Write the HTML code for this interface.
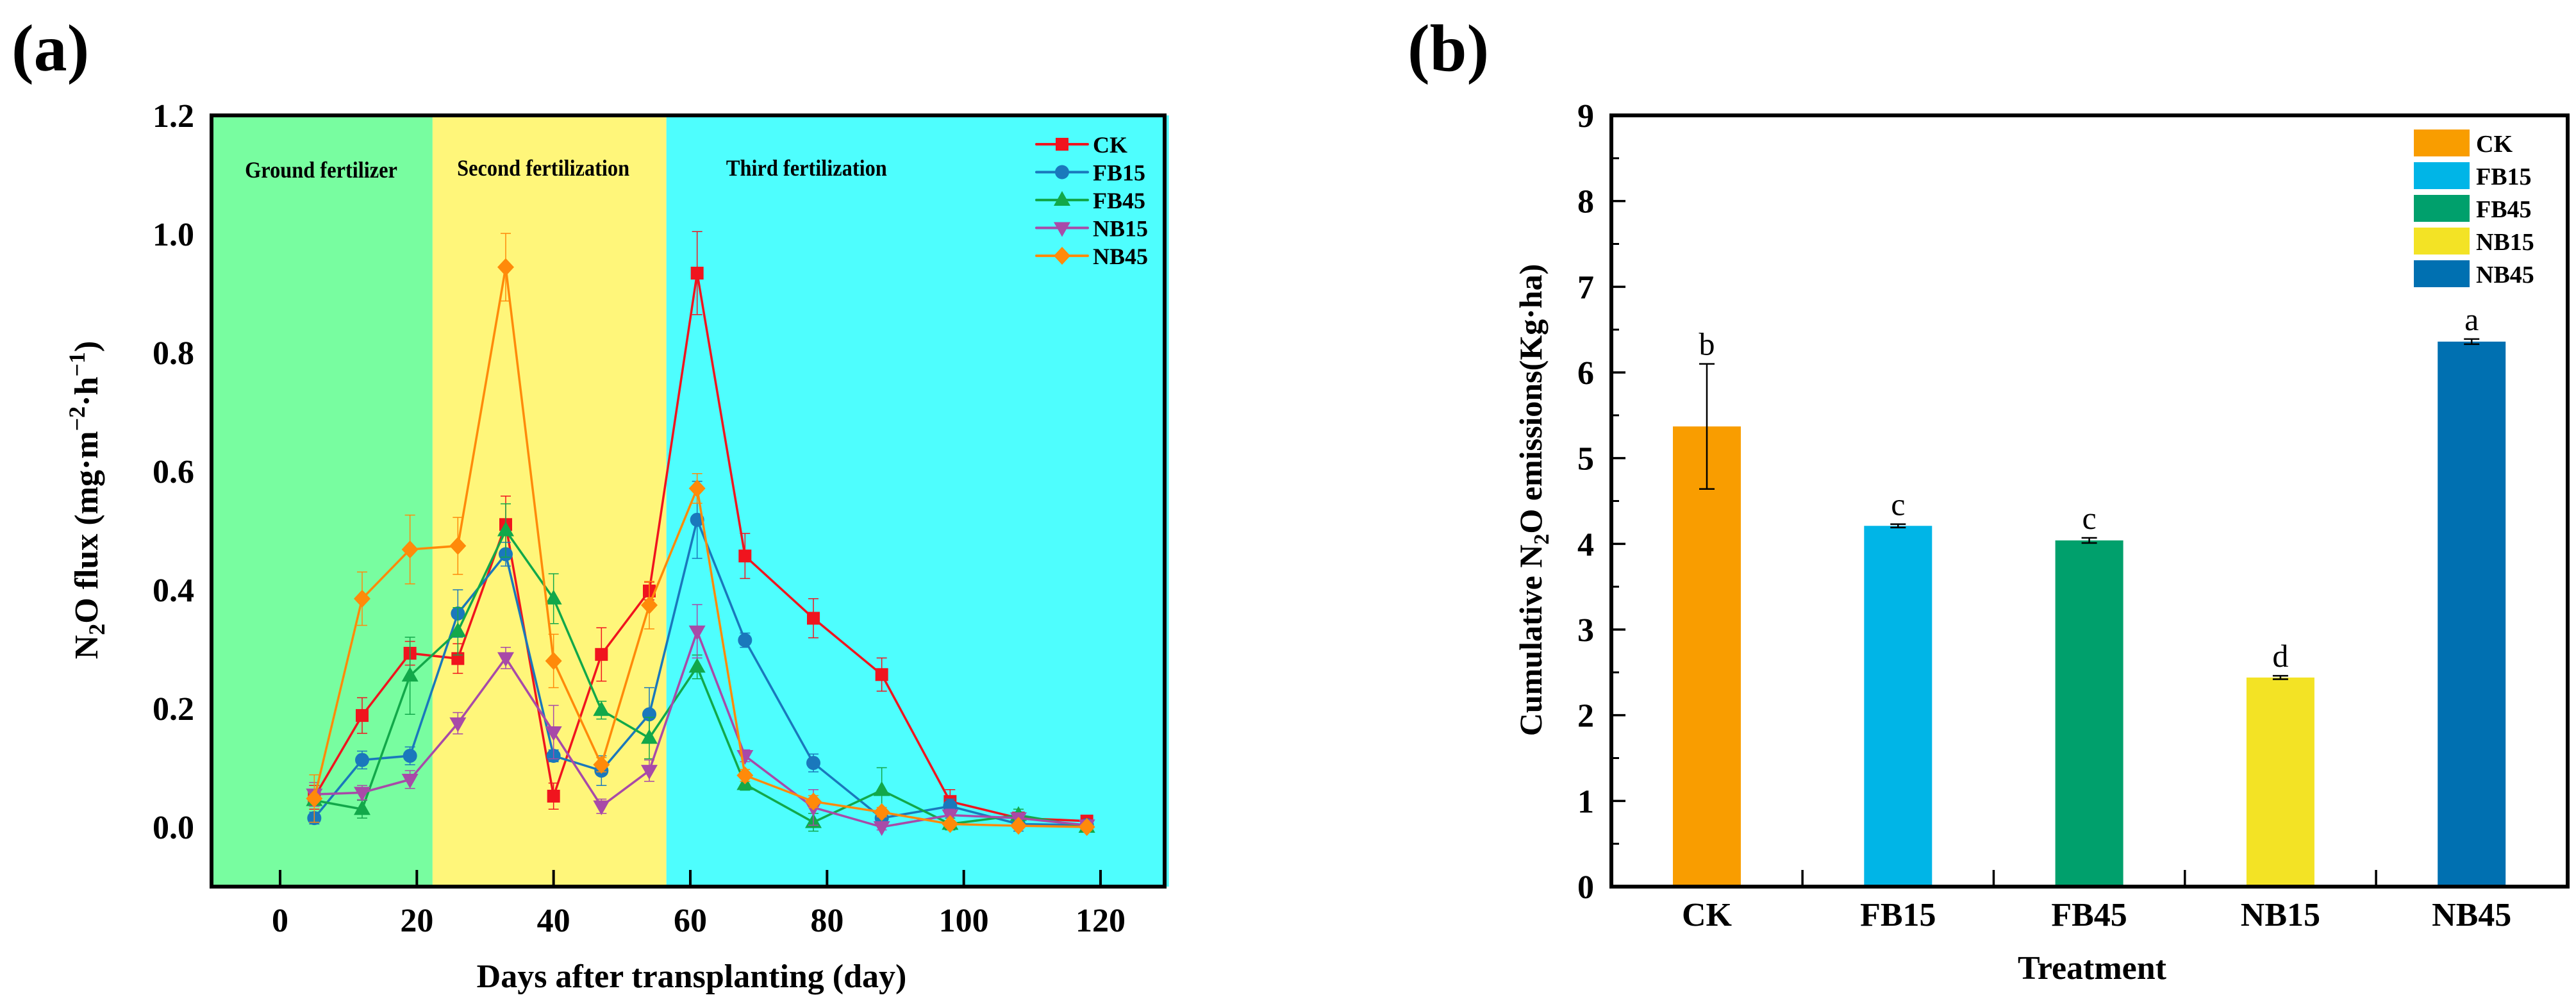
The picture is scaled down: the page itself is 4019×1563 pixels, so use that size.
<!DOCTYPE html>
<html><head><meta charset="utf-8"><style>
html,body{margin:0;padding:0;background:#fff;}
svg{display:block;font-family:"Liberation Serif","Times New Roman",serif;}
</style></head><body>
<svg id="fig" width="4019" height="1563" viewBox="0 0 4019 1563" xmlns="http://www.w3.org/2000/svg">
<g id="pa"></g>
<g id="pb"></g>
</svg>
<script>
const days = [5,12,19,26,33,40,47,54,61,68,78,88,98,108,118];
const seriesNames = ["CK","FB15","FB45","NB15","NB45"];
const ckVals   = [0.050,0.188,0.293,0.284,0.510,0.052,0.291,0.398,0.934,0.457,0.352,0.257,0.043,0.015,0.010];
const fb15Vals = [0.015,0.113,0.120,0.360,0.460,0.120,0.095,0.190,0.518,0.315,0.108,0.015,0.035,0.005,0.003];
const fb45Vals = [0.045,0.030,0.255,0.330,0.500,0.385,0.197,0.150,0.270,0.072,0.008,0.062,0.005,0.020,0.000];
const nb15Vals = [0.055,0.058,0.080,0.175,0.285,0.160,0.035,0.095,0.330,0.120,0.033,0.000,0.020,0.015,0.003];
const nb45Vals = [0.048,0.385,0.468,0.474,0.944,0.280,0.105,0.374,0.571,0.087,0.043,0.025,0.005,0.002,0.000];
const ckErr   = [0.020,0.030,0.020,0.025,0.048,0.022,0.045,0.015,0.070,0.038,0.033,0.028,0.020,0.010,0.005];
const fb15Err = [0.010,0.015,0.015,0.040,0.020,0.010,0.025,0.045,0.065,0.012,0.015,0.010,0.012,0.012,0.005];
const fb45Err = [0.010,0.015,0.065,0.040,0.045,0.042,0.015,0.035,0.020,0.010,0.015,0.038,0.010,0.010,0.005];
const nb15Err = [0.020,0.012,0.015,0.018,0.018,0.045,0.012,0.018,0.045,0.010,0.030,0.005,0.010,0.008,0.005];
const nb45Err = [0.040,0.045,0.058,0.048,0.057,0.045,0.012,0.040,0.025,0.010,0.010,0.008,0.005,0.005,0.005];
const xTicksA = [0,20,40,60,80,100,120];
const yTicksA = [0.0,0.2,0.4,0.6,0.8,1.0,1.2];
const bands = [[-10,22.3],[22.3,56.5],[56.5,130]];
const bandLabels = ["Ground fertilizer","Second fertilization","Third fertilization"];
const bandLabelDays = [6,38.5,77];

const treatments = ["CK","FB15","FB45","NB15","NB45"];
const cumVals = [5.37,4.21,4.04,2.44,6.36];
const cumErr  = [0.73,0.02,0.03,0.02,0.03];
const sigLetters = ["b","c","c","d","a"];
const yTicksB = [0,1,2,3,4,5,6,7,8,9];

const NS="http://www.w3.org/2000/svg";
function mk(parent,tag,attrs,text){const e=document.createElementNS(NS,tag);for(const k in attrs)e.setAttribute(k,attrs[k]);if(text!==undefined)e.textContent=text;parent.appendChild(e);return e;}

// ---------- Panel A ----------
const pa=document.getElementById('pa');
const AL=330,AR=1817,AT=180,AB=1383;
const xA=d=>437+(d-0)*(1717-437)/120;
const yA=v=>1290-v*925;
const bandColors=["#78fda0","#fff67a","#4efefe"];
bands.forEach((b,i)=>{
  const r=mk(pa,'rect',{x:xA(b[0]),y:AT,width:xA(b[1])-xA(b[0]),height:AB-AT,fill:bandColors[i]});
  
  
  const t=mk(pa,'text',{x:xA(bandLabelDays[i]),y:i==0?277:274,'font-size':36,'font-weight':'bold','text-anchor':'middle',transform:`translate(${xA(bandLabelDays[i])*0.1},0) scale(0.9,1)`},bandLabels[i]);
  
  
});
const colors=["#f0141e","#1a78bc","#12a84a","#a84aa8","#ff8a0a"];
const vals=[ckVals,fb15Vals,fb45Vals,nb15Vals,nb45Vals];
const errs=[ckErr,fb15Err,fb45Err,nb15Err,nb45Err];
function marker(g,i,cx,cy){
  let m;
  if(i==0) m=mk(g,'rect',{x:cx-10,y:cy-10,width:20,height:20,fill:colors[i]});
  else if(i==1) m=mk(g,'circle',{cx:cx,cy:cy,r:11,fill:colors[i]});
  else if(i==2) m=mk(g,'polygon',{points:`${cx},${cy-14} ${cx-13},${cy+9} ${cx+13},${cy+9}`,fill:colors[i]});
  else if(i==3) m=mk(g,'polygon',{points:`${cx},${cy+14} ${cx-13},${cy-9} ${cx+13},${cy-9}`,fill:colors[i]});
  else m=mk(g,'polygon',{points:`${cx},${cy-14} ${cx+13},${cy} ${cx},${cy+14} ${cx-13},${cy}`,fill:colors[i]});
  return m;
}
vals.forEach((vs,i)=>{
  const g=mk(pa,'g',{});
  
  
  vs.forEach((v,j)=>{
    const x=xA(days[j]),e=errs[i][j];
    mk(g,'path',{d:`M${x},${yA(v-e)}V${yA(v+e)}M${x-8},${yA(v+e)}H${x+8}M${x-8},${yA(v-e)}H${x+8}`,stroke:colors[i],'stroke-width':1.5,fill:'none'});
  });
  mk(g,'polyline',{points:vs.map((v,j)=>xA(days[j])+','+yA(v)).join(' '),fill:'none',stroke:colors[i],'stroke-width':3.5});
  vs.forEach((v,j)=>{
    const m=marker(g,i,xA(days[j]),yA(v));
    
    
  });
});
// legend A
seriesNames.forEach((n,i)=>{
  const y=225+i*43.5;
  const g=mk(pa,'g',{});
  
  
  mk(g,'line',{x1:1617,x2:1697,y1:y,y2:y,stroke:colors[i],'stroke-width':4,'stroke-linecap':'round'});
  marker(g,i,1657,y);
  mk(g,'text',{x:1705,y:y+13,'font-size':36,'font-weight':'bold'},n);
});
// axes A
const frA=mk(pa,'rect',{x:AL,y:AT,width:AR-AL,height:AB-AT,fill:'none',stroke:'#000','stroke-width':6});


xTicksA.forEach(d=>{
  mk(pa,'line',{x1:xA(d),x2:xA(d),y1:AB,y2:AB-26,stroke:'#000','stroke-width':4});
  const t=mk(pa,'text',{x:xA(d),y:1453,'font-size':52,'font-weight':'bold','text-anchor':'middle'},d);
  
  
});
yTicksA.forEach(v=>{
  const t=mk(pa,'text',{x:303,y:yA(v)+18,'font-size':52,'font-weight':'bold','text-anchor':'end'},v.toFixed(1));
  
  
});
const xtA=mk(pa,'text',{x:1079,y:1540,'font-size':52,'font-weight':'bold','text-anchor':'middle'},'Days after transplanting (day)');


const ytA=mk(pa,'text',{x:0,y:0,'font-size':52,'font-weight':'bold','text-anchor':'middle',transform:'translate(152,780) rotate(-90)'});


ytA.innerHTML='N<tspan font-size="36" dy="11">2</tspan><tspan dy="-11">O flux (mg·m</tspan><tspan font-size="36" dy="-20">−2</tspan><tspan dy="20">·h</tspan><tspan font-size="36" dy="-20">−1</tspan><tspan dy="20">)</tspan>';
const la=mk(pa,'text',{x:18,y:110,'font-size':104,'font-weight':'bold'},'(a)');



// ---------- Panel B ----------
const pb=document.getElementById('pb');
const BL=2514,BR=4006,BT=180,BB=1383;
const xB=i=>2663+i*298.3;
const yB=v=>BB-v*(BB-BT)/9;
const barColors=["#f99d00","#00b5e7","#00a06c","#f3e325","#0070b1"];
treatments.forEach((n,i)=>{
  const r=mk(pb,'rect',{x:xB(i)-53,y:yB(cumVals[i]),width:106,height:yB(0)-yB(cumVals[i]),fill:barColors[i]});
  
  
  const e=cumErr[i],x=xB(i);
  mk(pb,'path',{d:`M${x},${yB(cumVals[i]-e)}V${yB(cumVals[i]+e)}M${x-12},${yB(cumVals[i]+e)}H${x+12}M${x-12},${yB(cumVals[i]-e)}H${x+12}`,stroke:'#000','stroke-width':2.5,fill:'none'});
  const t=mk(pb,'text',{x:x,y:yB(cumVals[i]+e)-14,'font-size':50,'text-anchor':'middle'},sigLetters[i]);
  
  
  const tl=mk(pb,'text',{x:x,y:1444,'font-size':52,'font-weight':'bold','text-anchor':'middle'},n);
  
  
  const s=mk(pb,'rect',{x:3766,y:202+i*51,width:87,height:42,fill:barColors[i]});
  
  
  const lt=mk(pb,'text',{x:3863,y:237+i*51,'font-size':38,'font-weight':'bold'},n);
  
  
});
for(let i=0;i<4;i++){ const x=(xB(i)+xB(i+1))/2; mk(pb,'line',{x1:x,x2:x,y1:BB,y2:BB-26,stroke:'#000','stroke-width':3.5}); }
yTicksB.forEach(v=>{
  mk(pb,'line',{x1:BL,x2:BL+22,y1:yB(v),y2:yB(v),stroke:'#000','stroke-width':3.5});
  if(v<9) mk(pb,'line',{x1:BL,x2:BL+12,y1:yB(v+0.5),y2:yB(v+0.5),stroke:'#000','stroke-width':3});
  const t=mk(pb,'text',{x:2487,y:yB(v)+18,'font-size':52,'font-weight':'bold','text-anchor':'end'},v);
  
  
});
const frB=mk(pb,'path',{d:`M${BL},${BT}V${BB}H${BR}V${BT}Z`,fill:'none',stroke:'#000','stroke-width':6});


const xtB=mk(pb,'text',{x:3264,y:1527,'font-size':52,'font-weight':'bold','text-anchor':'middle'},'Treatment');


const ytB=mk(pb,'text',{x:0,y:0,'font-size':50,'font-weight':'bold','text-anchor':'middle',transform:'translate(2405,780) rotate(-90)'});


ytB.innerHTML='Cumulative N<tspan font-size="34" dy="11">2</tspan><tspan dy="-11">O emissions(Kg·ha)</tspan>';
const lb=mk(pb,'text',{x:2196,y:110,'font-size':104,'font-weight':'bold'},'(b)');


</script>
</body></html>
